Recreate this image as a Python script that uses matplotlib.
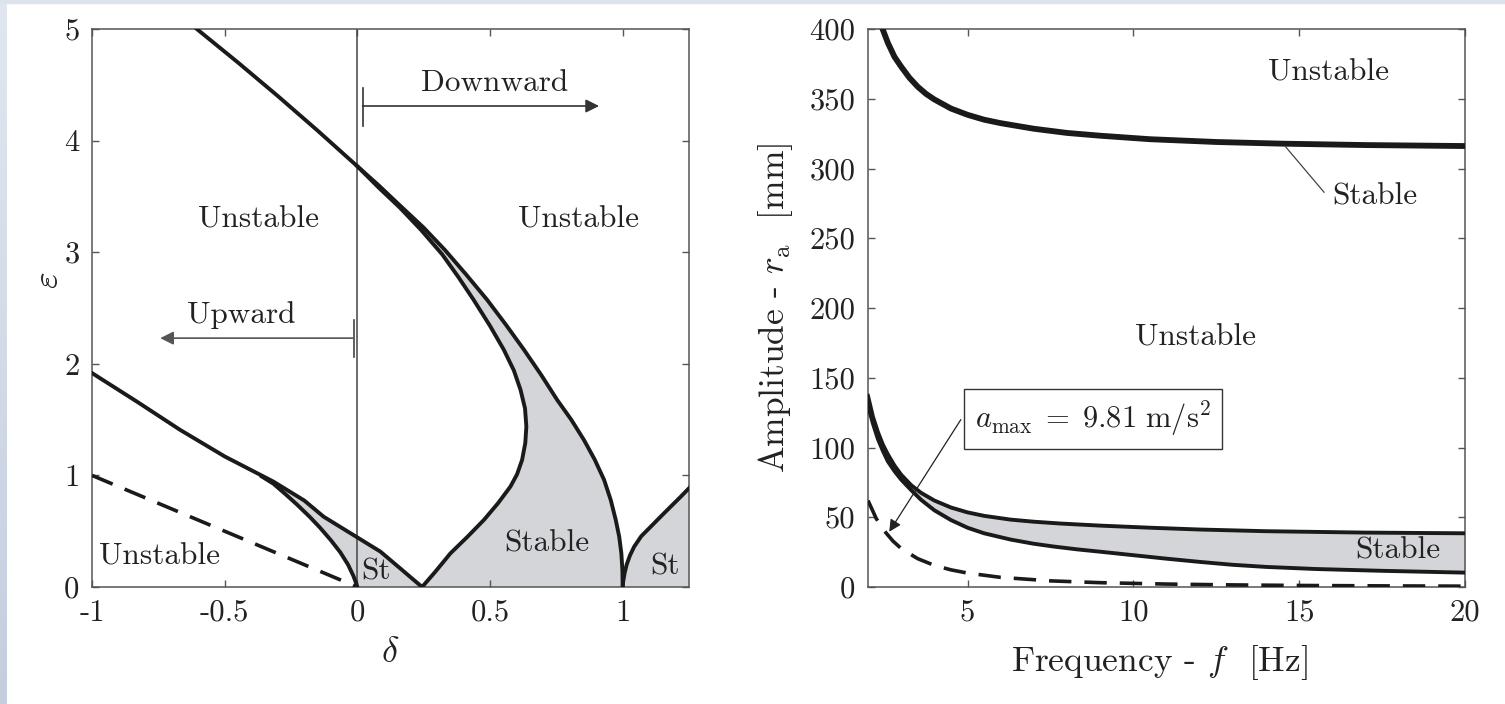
import matplotlib
matplotlib.use("Agg")
import matplotlib.pyplot as plt
import numpy as np
from matplotlib.patches import Rectangle

plt.rcParams['font.family'] = 'cmr10'
plt.rcParams['mathtext.fontset'] = 'cm'
plt.rcParams['axes.unicode_minus'] = False
plt.rcParams['axes.formatter.use_mathtext'] = True

# ---- left panel: stability chart (delta, epsilon) ----
outer_d = [-0.605, -0.45, -0.3, -0.15, 0.0, 0.08, 0.16, 0.25, 0.33, 0.41, 0.489, 0.56, 0.628,
           0.693, 0.753, 0.806, 0.854, 0.895, 0.930, 0.955, 0.974, 0.987, 0.995, 0.999, 1.0]
outer_e = [5.0, 4.7, 4.4, 4.09, 3.77, 3.6, 3.42, 3.22, 3.02, 2.8, 2.574, 2.35, 2.126,
           1.9, 1.677, 1.5, 1.318, 1.14, 0.96, 0.78, 0.601, 0.45, 0.302, 0.15, 0.0]
inner_d = [0.0, 0.08, 0.16, 0.24, 0.32, 0.38, 0.438, 0.50, 0.552, 0.59, 0.615, 0.632, 0.637,
           0.633, 0.621, 0.602, 0.577, 0.53, 0.477, 0.415, 0.351, 0.294, 0.244]
inner_e = [3.77, 3.58, 3.40, 3.2, 2.98, 2.78, 2.574, 2.34, 2.126, 1.94, 1.767, 1.6, 1.438,
           1.29, 1.139, 1.01, 0.90, 0.75, 0.601, 0.45, 0.302, 0.137, 0.0]
upper_d = [-1.0, -0.83, -0.668, -0.5, -0.316, -0.2, -0.127, 0.005, 0.087, 0.165, 0.244]
upper_e = [1.917, 1.66, 1.408, 1.17, 0.944, 0.775, 0.63, 0.437, 0.317, 0.16, 0.0]
lower_d = [-0.36, -0.316, -0.27, -0.228, -0.18, -0.14, -0.10, -0.064, -0.035, -0.015, -0.004, 0.0]
lower_e = [0.99, 0.925, 0.83, 0.74, 0.63, 0.53, 0.42, 0.31, 0.2, 0.1, 0.03, 0.0]
right_d = [1.0, 1.002, 1.007, 1.015, 1.027, 1.043, 1.07, 1.106, 1.145, 1.181, 1.215, 1.25]
right_e = [0.0, 0.05, 0.12, 0.2, 0.28, 0.36, 0.455, 0.541, 0.635, 0.72, 0.8, 0.885]
dash_d = [-1.0, 0.0]
dash_e = [1.0, 0.0]

# ---- right panel: amplitude vs frequency ----
top_f = [2.44, 2.6, 2.8, 3.0, 3.25, 3.5, 3.75, 4.0, 4.5, 5.0, 5.5, 6.0, 7.0, 8.0, 9.0, 10.5,
         12.5, 14.5, 17.0, 20.0]
top_r = [400, 390, 380, 373, 365, 358.6, 353.5, 349.5, 343, 338.5, 335, 332.5, 328.5, 325.5,
         323.5, 321, 319, 317.8, 316.8, 316.1]
band_hi_f = [2.0, 2.15, 2.3, 2.45, 2.6, 2.8, 3.0, 3.3, 3.6, 4.0, 4.5, 5.0, 5.5, 6.3, 7.0, 7.8,
             9.0, 10.5, 12.0, 14.0, 17.0, 20.0]
band_hi_r = [137, 122, 111, 102, 95, 87, 80.5, 73, 67.5, 62, 57, 53.5, 51, 48.3, 46.8, 45.5,
             44, 42.5, 41.2, 40, 39, 38.5]
band_lo_f = [2.0, 2.15, 2.3, 2.45, 2.6, 2.8, 3.0, 3.3, 3.6, 4.0, 4.5, 5.0, 5.5, 6.3, 7.0, 7.6,
             8.3, 9.0, 10.0, 11.0, 12.0, 13.0, 14.0, 15.5, 17.5, 20.0]
band_lo_r = [130, 117, 106, 97.5, 90, 83, 77, 69.5, 62.5, 55, 48, 42.5, 38.5, 34, 31, 29,
             27, 25.3, 22.8, 20.3, 18, 15.9, 14.4, 12.9, 11.6, 10.3]
amax_f = [2.0, 2.25, 2.5, 2.75, 3.0, 3.5, 4.0, 4.5, 5.0, 6.0, 7.5, 9.0, 11.0, 13.0, 15.0,
          17.5, 20.0]
amax_r = [62, 49, 40, 33, 27.6, 20.3, 15.5, 12.3, 10.0, 6.9, 4.4, 3.1, 2.1, 1.5, 1.1, 0.8, 0.6]

left_xticks = [-1, -0.5, 0, 0.5, 1]
left_xlabels = ['-1', '-0.5', '0', '0.5', '1']
left_yticks = [0, 1, 2, 3, 4, 5]
right_xticks = [5, 10, 15, 20]
right_yticks = list(range(0, 401, 50))

shade = '#d3d5d8'
ink = '#1a1a1a'
txt = '#222222'
lw = 2.8

fig = plt.figure(figsize=(15.05, 7.04), dpi=100)

# slide background strips
strip = fig.add_axes([0, 0, 7 / 1505, 1])
grad = np.linspace(0, 1, 256).reshape(-1, 1)
strip.imshow(grad, aspect='auto', cmap=matplotlib.colors.LinearSegmentedColormap.from_list(
    'g', ['#e1e7f0', '#c4cedf']), origin='upper')
strip.axis('off')
fig.patches.append(Rectangle((0, 1 - 3 / 704), 1, 3 / 704, transform=fig.transFigure,
                             color='#dde3ec', zorder=0))

ax1 = fig.add_axes([92 / 1505, 117 / 704, 597 / 1505, 558 / 704])
ax2 = fig.add_axes([868 / 1505, 117 / 704, 597 / 1505, 558 / 704])

for ax in (ax1, ax2):
    ax.tick_params(direction='in', top=True, right=True, length=5, width=1,
                   color='#555555', labelcolor=txt, labelsize=22, pad=9)
    for s in ax.spines.values():
        s.set_color('#555555')
        s.set_linewidth(1.1)

# left panel fills
big_d = [d for d in outer_d if d >= 0] + inner_d[::-1]
big_e = [e for d, e in zip(outer_d, outer_e) if d >= 0] + inner_e[::-1]
ax1.fill(big_d, big_e, color=shade, lw=0, zorder=1)
up_part = [(d, e) for d, e in zip(upper_d, upper_e) if d > -0.36][::-1]
ax1.fill(lower_d + [p[0] for p in up_part], lower_e + [p[1] for p in up_part],
         color=shade, lw=0, zorder=1)
ax1.fill(right_d + [1.25], right_e + [0.0], color=shade, lw=0, zorder=1)

ax1.axvline(0, color='#444444', lw=1.1, zorder=2)

for xs, ys in [(outer_d, outer_e), (inner_d, inner_e), (upper_d, upper_e),
               (lower_d, lower_e), (right_d, right_e)]:
    ax1.plot(xs, ys, color=ink, lw=lw, zorder=3, solid_joinstyle='round')
ax1.plot(dash_d, dash_e, color=ink, lw=2.6, dashes=(6.2, 3.6), zorder=3)

# direction arrows
ax1.annotate('', xy=(-0.743, 2.23), xytext=(-0.014, 2.23),
             arrowprops=dict(arrowstyle='-|>', color='#555555', lw=1.2,
                             mutation_scale=20, shrinkA=0, shrinkB=0))
ax1.plot([-0.014, -0.014], [2.06, 2.39], color='#444444', lw=1.2)
ax1.annotate('', xy=(0.911, 4.31), xytext=(0.02, 4.31),
             arrowprops=dict(arrowstyle='-|>', color='#333333', lw=1.2,
                             mutation_scale=20, shrinkA=0, shrinkB=0))
ax1.plot([0.02, 0.02], [4.13, 4.47], color='#333333', lw=1.2)

fs = 22.5
ax1.text(-0.438, 2.44, 'Upward', fontsize=fs, color=txt, ha='center', va='center')
ax1.text(0.517, 4.52, 'Downward', fontsize=fs, color=txt, ha='center', va='center')
ax1.text(-0.372, 3.29, 'Unstable', fontsize=fs, color=txt, ha='center', va='center')
ax1.text(0.832, 3.29, 'Unstable', fontsize=fs, color=txt, ha='center', va='center')
ax1.text(-0.747, 0.272, 'Unstable', fontsize=fs, color=txt, ha='center', va='center')
ax1.text(0.07, 0.137, 'St', fontsize=fs, color=txt, ha='center', va='center')
ax1.text(0.713, 0.39, 'Stable', fontsize=fs, color=txt, ha='center', va='center')
ax1.text(1.159, 0.18, 'St', fontsize=fs, color=txt, ha='center', va='center')

ax1.set_xlim(-1, 1.25)
ax1.set_ylim(0, 5)
ax1.set_xticks(left_xticks)
ax1.set_xticklabels(left_xlabels)
ax1.set_yticks(left_yticks)
ax1.set_yticklabels([str(v) for v in left_yticks])
ax1.set_xlabel(r'$\delta$', fontsize=26, color=txt)
ax1.xaxis.set_label_coords(0.5, -0.09)
ax1.set_ylabel(r'$\varepsilon$', fontsize=26, color=txt)
ax1.yaxis.set_label_coords(-0.045, 0.55)

# right panel
ax2.fill_between(band_lo_f, band_lo_r, np.interp(band_lo_f, band_hi_f, band_hi_r),
                 color=shade, lw=0, zorder=1)
ax2.plot(top_f, top_r, color=ink, lw=4.2, zorder=3)
ax2.plot(band_hi_f, band_hi_r, color=ink, lw=lw, zorder=3)
ax2.plot(band_lo_f, band_lo_r, color=ink, lw=lw, zorder=3)
ax2.plot(amax_f, amax_r, color=ink, lw=2.6, dashes=(6.2, 3.6), zorder=3)

ax2.text(15.87, 369, 'Unstable', fontsize=fs, color=txt, ha='center', va='center')
ax2.text(11.88, 179, 'Unstable', fontsize=fs, color=txt, ha='center', va='center')
ax2.plot([14.59, 15.75], [315.6, 283], color='#444444', lw=0.9, zorder=3)
ax2.text(16.0, 280, 'Stable', fontsize=fs, color=txt, ha='left', va='center')
ax2.text(17.96, 26.5, 'Stable', fontsize=fs, color=txt, ha='center', va='center', zorder=4)

ax2.text(8.78, 120.5, r'$a_{\mathrm{max}}\;=\;9.81\ \mathrm{m/s^2}$', fontsize=22, color=txt,
         ha='center', va='center',
         bbox=dict(boxstyle='square,pad=0.35', fc='white', ec='#333333', lw=1.0))
ax2.annotate('', xy=(2.64, 39.6), xytext=(4.8, 120),
             arrowprops=dict(arrowstyle='-|>', color='#222222', lw=0.9,
                             mutation_scale=18, shrinkA=0, shrinkB=0))

ax2.set_xlim(2, 20)
ax2.set_ylim(0, 400)
ax2.set_xticks(right_xticks)
ax2.set_xticklabels([str(v) for v in right_xticks])
ax2.set_yticks(right_yticks)
ax2.set_yticklabels([str(v) for v in right_yticks])
ax2.set_xlabel(r'Frequency - $f$  [Hz]', fontsize=25.5, color=txt)
ax2.xaxis.set_label_coords(0.4875, -0.1)
ax2.set_ylabel(r'Amplitude - $r_{\mathrm{a}}$  [mm]', fontsize=25.5, color=txt)
ax2.yaxis.set_label_coords(-0.122, 0.5)

fig.savefig('out.png', dpi=100)
